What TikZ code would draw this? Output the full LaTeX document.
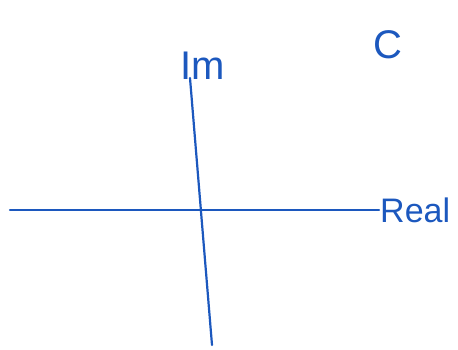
\documentclass[tikz,border=0pt]{standalone}
\usepackage{fontspec}
\setmainfont{Liberation Sans}
\definecolor{ink}{RGB}{28,88,190}
\begin{document}
\begin{tikzpicture}[
    x=1pt,y=-1pt,
    axis/.style={draw=ink,line width=2.2pt,line cap=round},
    lbl/.style={text=ink,inner sep=1pt,font=\fontsize{40}{42}\selectfont}
]
\useasboundingbox (0,0) rectangle (458,349);
% labels
\node[lbl] (im) at (203,66) {Im};
\node[lbl,anchor=west,font=\fontsize{34}{36}\selectfont] (re) at (379,210) {Real};
\node[lbl] (cc) at (388,45) {C};
% axes
\coordinate (west) at (10,210);
\coordinate (north) at (190,78);
\coordinate (south) at (212,345);
\draw[axis] (west) -- (re.west);
\draw[axis] (north) -- (south);
\end{tikzpicture}
\end{document}
